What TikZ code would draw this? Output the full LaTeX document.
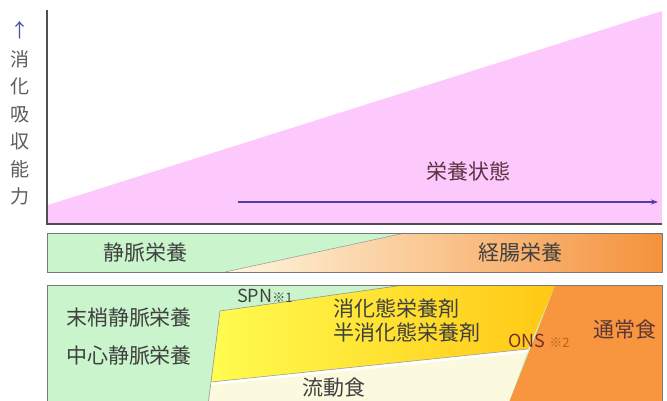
\documentclass[tikz,border=0pt]{standalone}
\usepackage{fontspec}
\setmainfont{Noto Sans CJK JP}
\usetikzlibrary{arrows.meta}
\definecolor{pinkc}{RGB}{253,200,251}
\definecolor{greenc}{RGB}{202,245,204}
\definecolor{bordc}{RGB}{120,120,120}
\definecolor{axisc}{RGB}{80,80,80}
\definecolor{creamA}{RGB}{254,246,222}
\definecolor{creamB}{RGB}{250,214,160}
\definecolor{orangeA}{RGB}{245,146,60}
\definecolor{yelA}{RGB}{255,252,80}
\definecolor{yelB}{RGB}{255,200,20}
\definecolor{creamC}{RGB}{252,250,222}
\definecolor{orangec}{RGB}{247,150,62}
\definecolor{txtc}{RGB}{64,64,64}
\definecolor{arrc}{RGB}{85,60,170}
\definecolor{upc}{RGB}{70,80,160}
\begin{document}
\begin{tikzpicture}[x=1pt,y=-1pt,
  lbl/.style={text=txtc, inner sep=0pt, font=\fontsize{21}{24}\selectfont},
  small/.style={text=txtc, inner sep=0pt, font=\fontsize{18}{20}\selectfont},
  bordline/.style={draw=bordc, line width=0.8pt}]
\useasboundingbox (0,0) rectangle (667,401);
% top panel
\fill[pinkc] (48,205) -- (662,11) -- (662,224) -- (48,224) -- cycle;
\draw[axisc, line width=1.3pt] (47,10) -- (47,224) -- (662,224);
\coordinate (a1) at (238,202);
\coordinate (a2) at (658,202);
\draw[arrc, line width=1.4pt, -{Stealth[length=7pt,width=5pt]}] (a1) -- (a2);
\node[lbl, text=txtc!80!purple] (eiyou) at (468,171) {栄養状態};
\node[text=upc, inner sep=0pt, font=\fontsize{19}{20}\selectfont] (up) at (20,30) {↑};
\node[text=txtc!85, inner sep=0pt, align=center, font=\fontsize{19}{27.5}\selectfont, anchor=north] (axl) at (20,50) {消\\化\\吸\\収\\能\\力};
% band 2
\fill[greenc] (47,233) rectangle (662,272);
\shade[left color=creamA, middle color=creamB, right color=orangeA] (225,272) -- (405,233) -- (662,233) -- (662,272) -- cycle;
\draw[bordc!70, line width=0.6pt] (225,272) -- (405,233);
\draw[bordline] (47,233) rectangle (662,272);
\node[lbl] (jomyaku) at (145,253) {静脈栄養};
\node[lbl] (keicho) at (520,253) {経腸栄養};
% band 3
\fill[greenc] (47,285) rectangle (662,405);
\shade[left color=yelA, right color=yelB] (220,311) -- (397,286) -- (555,286) -- (528,349) -- (211,382) -- cycle;
\draw[bordc!80, line width=0.6pt] (211,382) -- (220,311) -- (397,286);
\fill[creamC] (211,382) -- (528,349) -- (508,405) -- (208,405) -- cycle;
\draw[bordc!80, line width=0.6pt] (211,382) -- (208,405);
\draw[white, line width=2.5pt] (211,384) -- (528,351);
\draw[bordc!80, line width=0.5pt] (211,382) -- (528,349);
\fill[orangec] (555,286) -- (662,286) -- (662,405) -- (508,405) -- cycle;
\draw[bordline] (47,405) -- (47,285) -- (662,285) -- (662,405);
\node[lbl] (masho) at (129,318) {末梢静脈栄養};
\node[lbl] (chushin) at (129,356) {中心静脈栄養};
\node[small, anchor=west] (spn) at (237,296) {SPN{\fontsize{13}{14}\selectfont ※1}};
\node[lbl, anchor=west] (shoka) at (333,309) {消化態栄養剤};
\node[lbl, anchor=west] (hanshoka) at (333,333) {半消化態栄養剤};
\node[small, anchor=west, text=txtc!70!red] (ons) at (508,341) {ONS {\fontsize{13}{14}\selectfont\color{txtc!40!orange} ※2}};
\node[lbl, text=txtc!85!red] (tsujo) at (625,330) {通常食};
\node[lbl] (ryudo) at (334,388) {流動食};
\end{tikzpicture}
\end{document}
